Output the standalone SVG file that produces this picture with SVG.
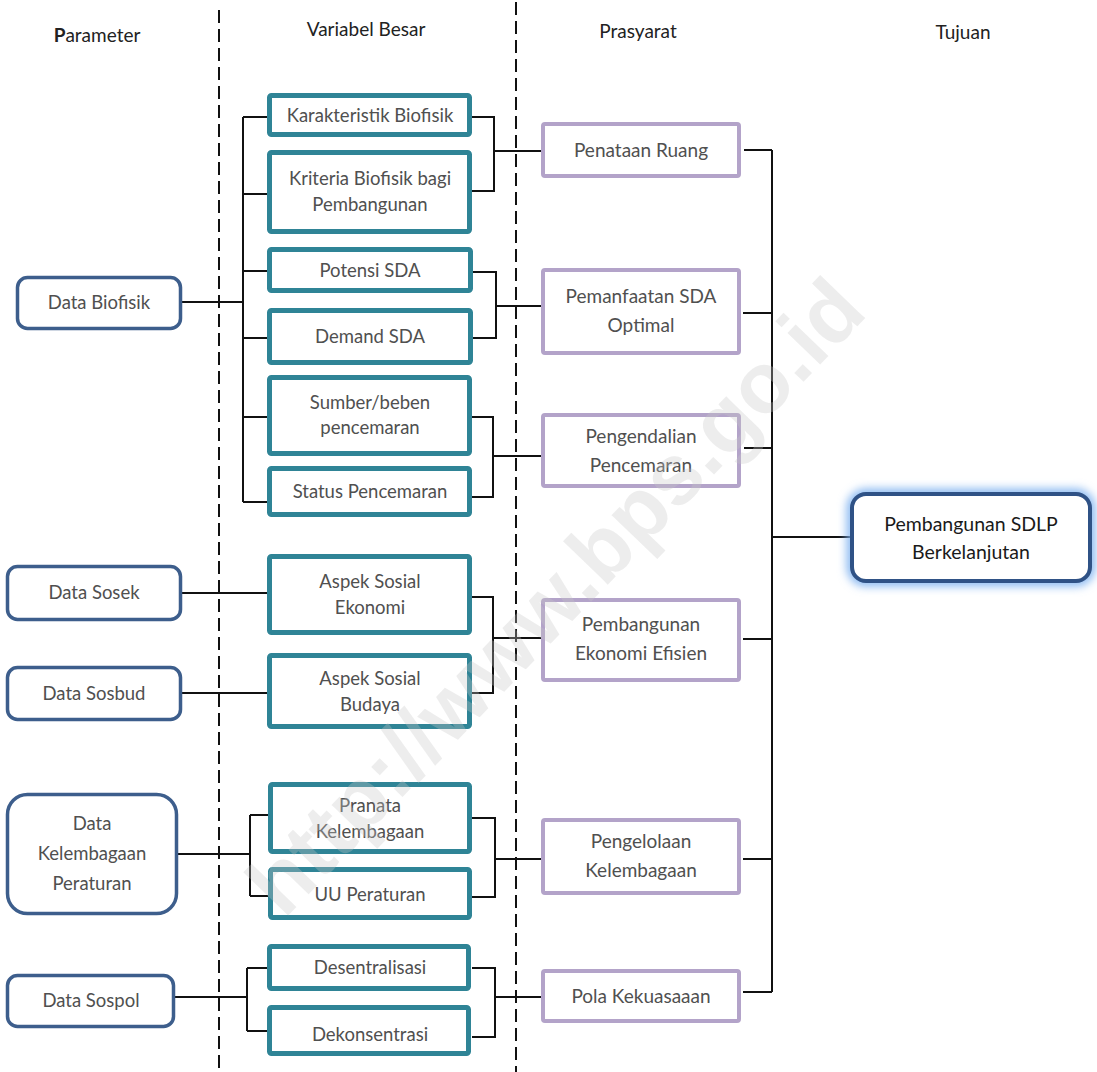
<svg xmlns="http://www.w3.org/2000/svg" width="1097" height="1072" viewBox="0 0 1097 1072">
<style>
text{font-family:Lato,"Open Sans","Liberation Sans",sans-serif;text-anchor:middle}
.hd{font-size:19px;fill:#222}
.t{font-size:18.5px;fill:#505050}
.tp{font-size:19px;fill:#505050}
.tg{font-size:19.5px;fill:#1a1a1a}
.par{fill:#fff;stroke:#3D5E8C;stroke-width:3.5}
.var{fill:#fff;stroke:#2F8496;stroke-width:5}
.pra{fill:#fff;stroke:#B3A3C9;stroke-width:4}
.tuj{fill:#fff;stroke:#2F5286;stroke-width:4}
.ln{fill:none;stroke:#111;stroke-width:2}
.dash{fill:none;stroke:#111;stroke-width:2;stroke-dasharray:13 6}
.wm{font-family:"Liberation Sans",Arial,sans-serif;font-weight:bold;font-size:86px;fill:#c8c8c8;fill-opacity:0.32}
</style>
<defs>
<filter id="glow" x="-20%" y="-30%" width="140%" height="160%">
<feGaussianBlur stdDeviation="5"/>
</filter>
</defs>
<rect width="1097" height="1072" fill="#fff"/>

<g id="headers">
<text class="hd" x="97" y="42"><tspan font-weight="bold">P</tspan>arameter</text>
<text class="hd" x="366" y="36">Variabel Besar</text>
<text class="hd" x="638" y="38">Prasyarat</text>
<text class="hd" x="963" y="39">Tujuan</text>
</g>

<g id="dividers">
<line class="dash" x1="219" y1="10" x2="219" y2="1072"/>
<line class="dash" x1="516" y1="2" x2="516" y2="1072"/>
</g>

<g id="connectors">
<path class="ln" d="M182 302H243M243 117V502M243 117H268M243 194H268M243 271H268M243 338H268M243 417H268M243 502H268"/>
<path class="ln" d="M472 117H494V191H472M494 151H541"/>
<path class="ln" d="M473 272H496V338H473M496 306H541"/>
<path class="ln" d="M472 417H493V497H472M493 456H541"/>
<path class="ln" d="M182 593H268M182 693H268"/>
<path class="ln" d="M472 597H493V693H472M493 638H541"/>
<path class="ln" d="M178 854H250M250 815V896M250 815H269M250 896H269"/>
<path class="ln" d="M472 818H495V897H472M495 859H541"/>
<path class="ln" d="M175 997H247M247 968V1031M247 968H268M247 1031H268"/>
<path class="ln" d="M472 968H495V1037H472M495 997H541"/>
<path class="ln" d="M772 150V992M744 150H772M743 313H772M744 448H772M743 639H772M743 859H772M743 992H772M772 537H850"/>
</g>

<g id="n-data-biofisik"><rect class="par" x="17.5" y="277.5" width="163" height="51" rx="10"/><text class="t" x="99" y="309">Data Biofisik</text></g>
<g id="n-data-sosek"><rect class="par" x="7.5" y="566.5" width="173" height="53" rx="10"/><text class="t" x="94" y="599">Data Sosek</text></g>
<g id="n-data-sosbud"><rect class="par" x="7.5" y="667.5" width="173" height="52" rx="10"/><text class="t" x="94" y="700">Data Sosbud</text></g>
<g id="n-data-kelembagaan"><rect class="par" x="7.5" y="794.5" width="169" height="119" rx="20"/><text class="t" x="92" y="830">Data</text><text class="t" x="92" y="860">Kelembagaan</text><text class="t" x="92" y="890">Peraturan</text></g>
<g id="n-data-sospol"><rect class="par" x="7.5" y="975.5" width="166" height="51" rx="10"/><text class="t" x="91" y="1007">Data Sospol</text></g>

<g id="n-karakteristik"><rect class="var" x="269.5" y="95.5" width="200" height="39" rx="2"/><text class="t" x="370" y="122">Karakteristik Biofisik</text></g>
<g id="n-kriteria"><rect class="var" x="269.5" y="152.5" width="200" height="79" rx="2"/><text class="t" x="370" y="185">Kriteria Biofisik bagi</text><text class="t" x="370" y="211">Pembangunan</text></g>
<g id="n-potensi"><rect class="var" x="269.5" y="249.5" width="201" height="41" rx="2"/><text class="t" x="370" y="277">Potensi SDA</text></g>
<g id="n-demand"><rect class="var" x="269.5" y="310.5" width="201" height="52" rx="2"/><text class="t" x="370" y="343">Demand SDA</text></g>
<g id="n-sumber"><rect class="var" x="269.5" y="377.5" width="200" height="76" rx="2"/><text class="t" x="370" y="409">Sumber/beben</text><text class="t" x="370" y="434">pencemaran</text></g>
<g id="n-status"><rect class="var" x="269.5" y="468.5" width="200" height="46" rx="2"/><text class="t" x="370" y="498">Status Pencemaran</text></g>
<g id="n-aspek-ekonomi"><rect class="var" x="269.5" y="556.5" width="200" height="76" rx="2"/><text class="t" x="370" y="588">Aspek Sosial</text><text class="t" x="370" y="614">Ekonomi</text></g>
<g id="n-aspek-budaya"><rect class="var" x="269.5" y="655.5" width="200" height="71" rx="2"/><text class="t" x="370" y="685">Aspek Sosial</text><text class="t" x="370" y="711">Budaya</text></g>
<g id="n-pranata"><rect class="var" x="270.5" y="784.5" width="199" height="67" rx="2"/><text class="t" x="370" y="812">Pranata</text><text class="t" x="370" y="838">Kelembagaan</text></g>
<g id="n-uu"><rect class="var" x="270.5" y="869.5" width="199" height="48" rx="2"/><text class="t" x="370" y="901">UU Peraturan</text></g>
<g id="n-desentralisasi"><rect class="var" x="269.5" y="946.5" width="199" height="42" rx="2"/><text class="t" x="370" y="974">Desentralisasi</text></g>
<g id="n-dekonsentrasi"><rect class="var" x="269.5" y="1007.5" width="199" height="46" rx="2"/><text class="t" x="370" y="1041">Dekonsentrasi</text></g>

<g id="n-penataan"><rect class="pra" x="543" y="124" width="196" height="52" rx="2"/><text class="tp" x="641" y="157">Penataan Ruang</text></g>
<g id="n-pemanfaatan"><rect class="pra" x="543" y="270" width="196" height="83" rx="2"/><text class="tp" x="641" y="303">Pemanfaatan SDA</text><text class="tp" x="641" y="332">Optimal</text></g>
<g id="n-pengendalian"><rect class="pra" x="543" y="415" width="196" height="71" rx="2"/><text class="tp" x="641" y="443">Pengendalian</text><text class="tp" x="641" y="472">Pencemaran</text></g>
<g id="n-pembangunan-ekonomi"><rect class="pra" x="543" y="600" width="196" height="80" rx="2"/><text class="tp" x="641" y="631">Pembangunan</text><text class="tp" x="641" y="660">Ekonomi Efisien</text></g>
<g id="n-pengelolaan"><rect class="pra" x="543" y="820" width="196" height="73" rx="2"/><text class="tp" x="641" y="848">Pengelolaan</text><text class="tp" x="641" y="877">Kelembagaan</text></g>
<g id="n-pola"><rect class="pra" x="543" y="971" width="196" height="50" rx="2"/><text class="tp" x="641" y="1003">Pola Kekuasaaan</text></g>

<g id="n-tujuan">
<rect x="852" y="494" width="238" height="87" rx="14" fill="none" stroke="#7FB2F0" stroke-width="10" filter="url(#glow)"/>
<rect class="tuj" x="852" y="494" width="238" height="87" rx="14"/>
<text class="tg" x="971" y="531">Pembangunan SDLP</text>
<text class="tg" x="971" y="559">Berkelanjutan</text>
</g>

<text class="wm" transform="translate(555,596) rotate(-46)" dy="30">http://www.bps.go.id</text>
</svg>
